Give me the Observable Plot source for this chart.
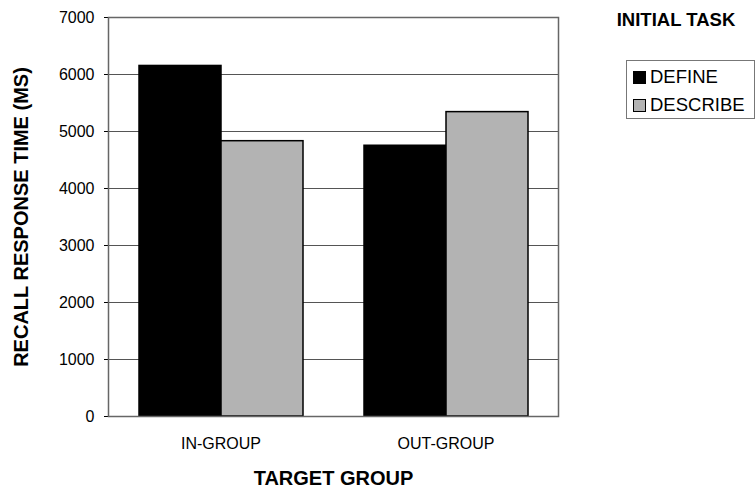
<!DOCTYPE html>
<html>
<head>
<meta charset="utf-8">
<script src="https://cdn.jsdelivr.net/npm/d3@7"></script>
<script src="https://cdn.jsdelivr.net/npm/@observablehq/plot@0.6"></script>
<style>
  html, body { margin: 0; padding: 0; background: #fff; }
  #wrap { position: relative; width: 756px; height: 490px; font-family: "Liberation Sans", Arial, sans-serif; }
  #legend-title { position: absolute; left: 596px; width: 160px; top: 9px; text-align: center; font-weight: bold; font-size: 18.5px; line-height: 21px; color: #000; }
  #legend { position: absolute; left: 626px; top: 60px; width: 129px; height: 59px; border: 1px solid #777; padding: 2px 0 0 6px; box-sizing: border-box; font-size: 18.5px; color: #000; }
  #legend .item { display: flex; align-items: center; height: 28px; }
  #legend .sw { width: 13px; height: 13px; border: 1px solid #000; margin-right: 4px; box-sizing: border-box; }
  svg text { font-family: "Liberation Sans", Arial, sans-serif; }
  g[aria-label="y-axis label"] text, g[aria-label="fx-axis label"] text { font-weight: bold; font-size: 20px; }
  g[aria-label="fx-axis tick label"] text { font-size: 16px; }
  g[aria-label="y-axis tick label"] text { font-size: 16px; }
</style>
</head>
<body>
<div id="wrap">
  <div id="chart"></div>
  <div id="legend-title"></div>
  <div id="legend"></div>
</div>
<script>
const groups = ["IN-GROUP", "OUT-GROUP"];
const tasks = ["DEFINE", "DESCRIBE"];
const defineValues = [6150, 4750];
const describeValues = [4830, 5340];
const taskColors = ["#000000", "#b3b3b3"];
const yTicks = [0, 1000, 2000, 3000, 4000, 5000, 6000, 7000];
const legendTitle = "INITIAL TASK";
const xTitle = "TARGET GROUP";
const yTitle = "RECALL RESPONSE TIME (MS)";

const data = [];
groups.forEach((g, i) => {
  data.push({group: g, task: tasks[0], value: defineValues[i]});
  data.push({group: g, task: tasks[1], value: describeValues[i]});
});

const chart = Plot.plot({
  width: 756,
  height: 490,
  marginLeft: 107,
  marginRight: 198,
  marginTop: 17,
  marginBottom: 74,
  style: {fontSize: "16px", fontFamily: "Liberation Sans, Arial, sans-serif", color: "#000"},
  fx: {domain: groups, padding: 0, label: xTitle, labelAnchor: "center", labelArrow: false, labelOffset: 68, tickSize: 0, tickPadding: 21},
  x: {domain: tasks, paddingInner: 0, paddingOuter: 0.36, axis: null},
  y: {domain: [0, 7000], ticks: yTicks, label: yTitle, labelAnchor: "center", labelArrow: false, labelOffset: 95, tickSize: 4, tickPadding: 10, tickFormat: d => String(d)},
  color: {domain: tasks, range: taskColors},
  marks: [
    Plot.ruleY(yTicks, {stroke: "#555", strokeWidth: 1}),
    Plot.barY(data, {fx: "group", x: "task", y: "value", fill: "task", stroke: "#000", strokeWidth: 1.5}),
    Plot.frame({facet: "super", stroke: "#666", strokeWidth: 1.5})
  ]
});
document.getElementById("chart").appendChild(chart);

document.getElementById("legend-title").textContent = legendTitle;
const leg = document.getElementById("legend");
tasks.forEach((t, i) => {
  const it = document.createElement("div");
  it.className = "item";
  const sw = document.createElement("div");
  sw.className = "sw";
  sw.style.background = taskColors[i];
  const lab = document.createElement("span");
  lab.textContent = t;
  it.appendChild(sw); it.appendChild(lab);
  leg.appendChild(it);
});
</script>
</body>
</html>
